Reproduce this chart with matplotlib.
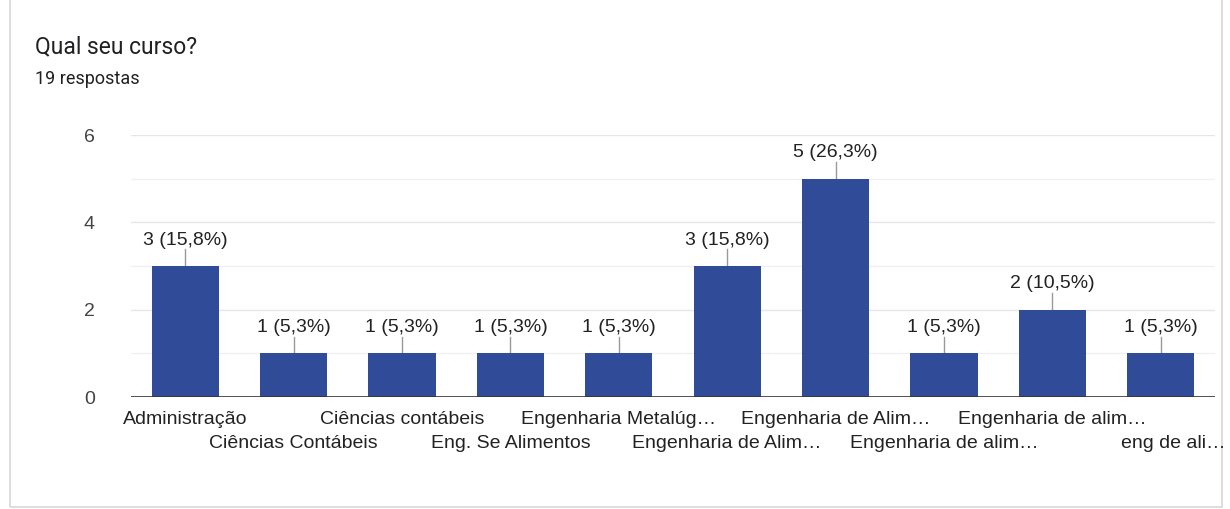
import matplotlib
matplotlib.use('Agg')
import matplotlib.pyplot as plt
from matplotlib.patches import Rectangle
from matplotlib.transforms import blended_transform_factory

cursos = ['Administração', 'Ciências Contábeis', 'Ciências contábeis', 'Eng. Se Alimentos',
          'Engenharia Metalúg…', 'Engenharia de Alim…', 'Engenharia de Alim…',
          'Engenharia de alim…', 'Engenharia de alim…', 'eng de ali…']
respostas = [3, 1, 1, 1, 1, 3, 5, 1, 2, 1]
rotulos = ['3 (15,8%)', '1 (5,3%)', '1 (5,3%)', '1 (5,3%)', '1 (5,3%)',
           '3 (15,8%)', '5 (26,3%)', '1 (5,3%)', '2 (10,5%)', '1 (5,3%)']
y_ticks = [0, 2, 4, 6]

W, H = 1230, 509
fig = plt.figure(figsize=(W / 100, H / 100), dpi=100)
fig.patch.set_facecolor('white')

# card outline
fig.patches.append(Rectangle((10 / W, 2 / H), 1212 / W, 1.1, transform=fig.transFigure,
                             facecolor='none', edgecolor='#d8d8d8', linewidth=1.2, zorder=-1))

fig.text(35 / W, 1 - 47 / H, 'Qual seu curso?', fontsize=16.5, family='Roboto',
         color='#202124', va='center')
fig.text(35 / W, 1 - 79 / H, '19 respostas', fontsize=13, family='Roboto',
         color='#202124', va='center')

ax = fig.add_axes([131 / W, 1 - 397 / H, (1215 - 131) / W, (397 - 135) / H])
x = list(range(len(cursos)))
ax.bar(x, respostas, width=0.62, color='#304c99', zorder=3)
ax.set_xlim(-0.5, len(cursos) - 0.5)
ax.set_ylim(0, 6)

for yv in range(1, 7):
    ax.axhline(yv, color='#e6e6e6' if yv % 2 == 0 else '#f0f0f0', lw=1, zorder=1)
ax.axhline(0, color='#333333', lw=1.2, zorder=4)

for i, (v, lab) in enumerate(zip(respostas, rotulos)):
    ax.plot([i, i], [v, v + 0.38], color='#999999', lw=1, zorder=2)
    ax.text(i, v + 0.4, lab, ha='center', va='bottom', fontsize=14,
            family='Liberation Sans', color='#222222')

for s in ax.spines.values():
    s.set_visible(False)
ax.set_yticks(y_ticks)
ax.set_yticklabels([str(t) for t in y_ticks], fontsize=14, family='Liberation Sans', color='#444444')
ax.tick_params(axis='y', length=0, pad=26)
ax.set_xticks(x)
ax.set_xticklabels([])
ax.tick_params(axis='x', length=0)

# category labels alternate between two rows
trans = blended_transform_factory(ax.transData, fig.transFigure)
for i, c in enumerate(cursos):
    row_y = 419 if i % 2 == 0 else 443
    ha = 'right' if i == len(cursos) - 1 else 'center'
    xi = i + 0.6 if i == len(cursos) - 1 else i
    ax.text(xi, 1 - row_y / H, c, ha=ha, va='center', fontsize=14,
            family='Liberation Sans', color='#222222', transform=trans)

fig.savefig('out.png', dpi=100)
